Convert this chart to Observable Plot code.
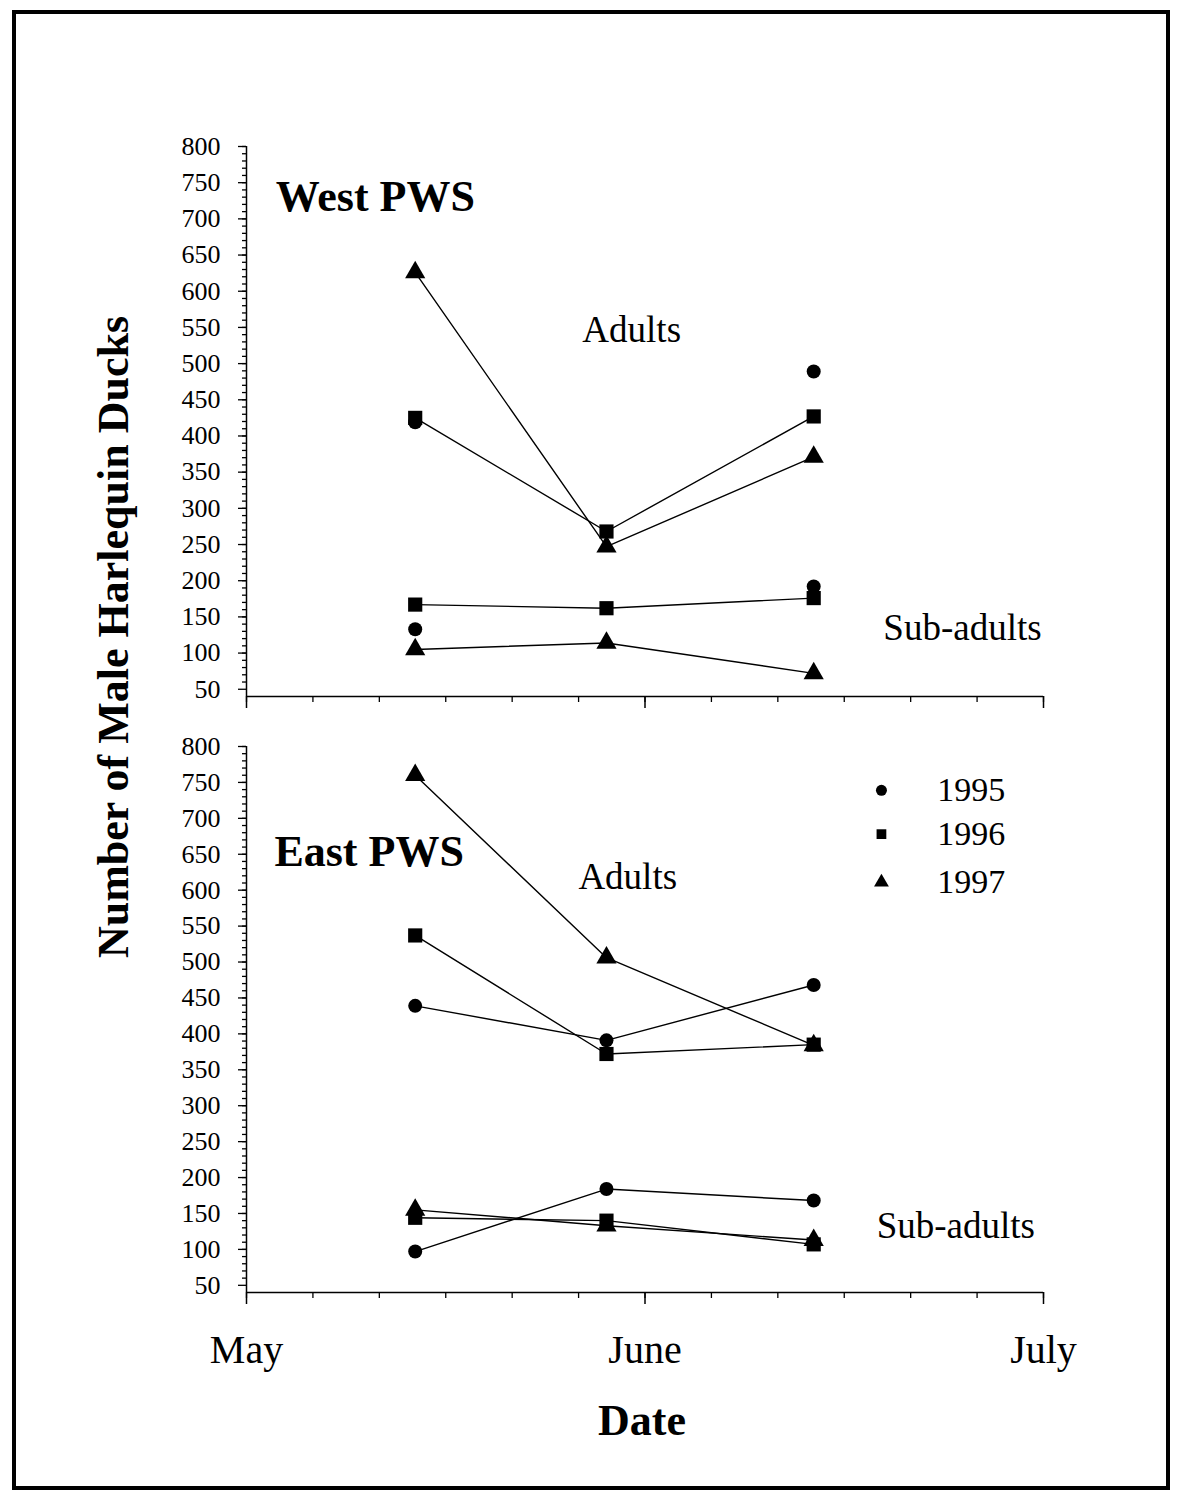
<!DOCTYPE html>
<html><head><meta charset="utf-8">
<script src="https://cdn.jsdelivr.net/npm/d3@7"></script>
<script src="https://cdn.jsdelivr.net/npm/@observablehq/plot@0.6"></script>
<style>
body{margin:0;background:#fff;}
#wrap{position:relative;width:1177px;height:1498px;font-family:"Liberation Serif","Times New Roman",serif;color:#000;}
#frame{position:absolute;left:12px;top:10px;width:1158px;height:1480px;border:4px solid #000;box-sizing:border-box;pointer-events:none;}
#top,#bottom{position:absolute;left:0;}
#top{top:0}
#bottom{top:716px}
#ytitle{position:absolute;left:113px;top:637px;transform:translate(-50%,-50%) rotate(-90deg);font-weight:bold;font-size:44px;white-space:nowrap;}
#xtitle{position:absolute;left:642px;top:1420px;transform:translate(-50%,-50%);font-weight:bold;font-size:44px;white-space:nowrap;}
svg{max-width:none !important;}
</style></head>
<body>
<div id="wrap">
  <div id="top"></div>
  <div id="bottom"></div>
  <div id="ytitle">Number of Male Harlequin Ducks</div>
  <div id="xtitle">Date</div>
  <div id="frame"></div>
</div>
<script>
// ---- data (x = days after 1 May) ----
const years = ["1995", "1996", "1997"];
const surveyDays = [12.7, 27.1, 42.7];
const monthTicks = [0, 30, 60];
const monthNames = ["May", "June", "July"];

// West PWS
const westAdults1995 = [419, null, 489];
const westAdults1996 = [425, 268, 427];
const westAdults1997 = [626, 247, 371];
const westSub1995 = [133, null, 192];
const westSub1996 = [167, 162, 176];
const westSub1997 = [105, 114, 72];

// East PWS
const eastAdults1995 = [439, 391, 468];
const eastAdults1996 = [537, 372, 385];
const eastAdults1997 = [760, 506, 384];
const eastSub1995 = [97, 184, 168];
const eastSub1996 = [144, 140, 107];
const eastSub1997 = [155, 133, 113];

// annotations (data coordinates)
const panelTitles = [
  {panel: "West", text: "West PWS", x: 2.2, y: 731},
  {panel: "East", text: "East PWS", x: 2.1, y: 653}
];
const groupLabels = [
  {panel: "West", text: "Adults", x: 29.0, y: 546},
  {panel: "West", text: "Sub-adults", x: 53.9, y: 134},
  {panel: "East", text: "Adults", x: 28.7, y: 618},
  {panel: "East", text: "Sub-adults", x: 53.4, y: 133}
];
const legendYears = years;
const legendY = [739, 678, 611];
const legendSymbolX = 47.8;
const legendTextX = 52.0;
const drawOrder = ["1995", "1997", "1996"];
const markerRadius = {"1995": 7, "1996": 8, "1997": 7.5};

// ---- build table ----
const series = [
  ["West", "Adults", "1995", westAdults1995], ["West", "Adults", "1996", westAdults1996], ["West", "Adults", "1997", westAdults1997],
  ["West", "Sub", "1995", westSub1995], ["West", "Sub", "1996", westSub1996], ["West", "Sub", "1997", westSub1997],
  ["East", "Adults", "1995", eastAdults1995], ["East", "Adults", "1996", eastAdults1996], ["East", "Adults", "1997", eastAdults1997],
  ["East", "Sub", "1995", eastSub1995], ["East", "Sub", "1996", eastSub1996], ["East", "Sub", "1997", eastSub1997]
];
const rows = [];
for (const [panel, group, year, vals] of series) {
  vals.forEach((v, i) => rows.push({panel, group, year, key: panel + group + year, x: surveyDays[i], y: v}));
}
const legendRows = legendYears.map((y, i) => ({year: y, y: legendY[i]}));

function panelPlot(panel, opts) {
  const data = rows.filter(d => d.panel === panel);
  const dots = data.filter(d => d.y != null)
    .sort((a, b) => drawOrder.indexOf(a.year) - drawOrder.indexOf(b.year));
  const marks = [
    Plot.axisY(d3.range(60, 801, 10), {tickSize: 4, tickFormat: () => "", label: null, strokeWidth: 1.3}),
    Plot.axisY(d3.range(50, 801, 50), {tickSize: 8, tickPadding: 18, fontSize: 26, label: null, strokeWidth: 1.3}),
    Plot.axisX(d3.range(0, 61, 5), {tickSize: 6, tickFormat: () => "", label: null, strokeWidth: 1.3}),
    Plot.axisX(monthTicks, {tickSize: 12, tickPadding: 30, fontSize: 40, label: null, strokeWidth: 1.5,
      tickFormat: opts.showMonths ? (d => monthNames[monthTicks.indexOf(d)]) : (() => "")}),
    Plot.ruleX([0], {stroke: "#000", strokeWidth: 1.5}),
    Plot.ruleY([40], {stroke: "#000", strokeWidth: 1.5}),
    Plot.line(data, {x: "x", y: "y", z: "key", stroke: "#000", strokeWidth: 1.4}),
    Plot.dot(dots, {x: "x", y: "y", symbol: "year", fill: "#000", r: d => markerRadius[d.year]}),
    Plot.text(panelTitles.filter(d => d.panel === panel), {x: "x", y: "y", text: "text", textAnchor: "start", fontSize: 44, fontWeight: "bold", fill: "#000"}),
    Plot.text(groupLabels.filter(d => d.panel === panel), {x: "x", y: "y", text: "text", fontSize: 37, fill: "#000"})
  ];
  if (opts.legend) {
    marks.push(Plot.dot(legendRows, {x: () => legendSymbolX, y: "y", symbol: "year", fill: "#000", r: 5.5}));
    marks.push(Plot.text(legendRows, {x: () => legendTextX, y: "y", text: "year", textAnchor: "start", fontSize: 34, fill: "#000"}));
  }
  return Plot.plot({
    width: 1177,
    height: opts.height,
    marginLeft: 246,
    marginRight: 134,
    marginTop: opts.marginTop,
    marginBottom: opts.marginBottom,
    x: {domain: [0, 60], label: null},
    y: {domain: [40, 800], label: null},
    r: {type: "identity"},
    symbol: {domain: years, range: ["circle", "square", "triangle"]},
    style: {fontFamily: '"Liberation Serif","Times New Roman",serif', background: "transparent", color: "#000", overflow: "visible"},
    marks
  });
}

document.getElementById("top").append(panelPlot("West", {height: 716, marginTop: 146, marginBottom: 20, showMonths: false, legend: false}));
document.getElementById("bottom").append(panelPlot("East", {height: 656, marginTop: 30, marginBottom: 80, showMonths: true, legend: true}));
</script>
</body></html>
